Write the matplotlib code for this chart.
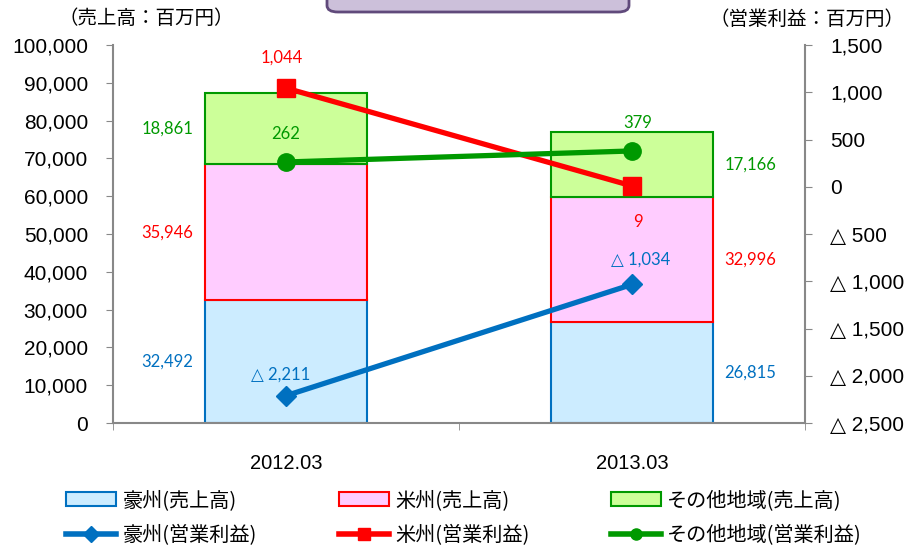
import matplotlib
matplotlib.use('Agg')
import matplotlib.pyplot as plt
from matplotlib.patches import FancyBboxPatch, Patch
from matplotlib.lines import Line2D
from matplotlib.ticker import FuncFormatter
import numpy as np

JP = ['Noto Sans CJK JP', 'DejaVu Sans']
NUM = ['Liberation Sans', 'DejaVu Sans']
LBL = ['Lato', 'DejaVu Sans']

periods = ['2012.03', '2013.03']
regions = ['豪州', '米州', 'その他地域']

sales_aus = [32492, 26815]
sales_us = [35946, 32996]
sales_other = [18861, 17166]

profit_aus = [-2211, -1034]
profit_us = [1044, 9]
profit_other = [262, 379]

fill_colors = ['#CCECFF', '#FFCCFF', '#CCFF99']
edge_colors = ['#0070C0', '#FF0000', '#009900']


def fmt_sales(v, pos=None):
    return f'{int(v):,}'


def fmt_profit(v, pos=None):
    v = int(round(v))
    if v < 0:
        return f'△ {abs(v):,}'
    return f'{v:,}'


fig = plt.figure(figsize=(9.14, 5.49), dpi=100)
ax = fig.add_axes([0.1236, 0.2295, 0.7571, 0.6885])
ax2 = ax.twinx()

x = np.arange(len(periods))
width = 0.47
sales = [sales_aus, sales_us, sales_other]
bottom = np.zeros(len(periods))
bar_handles = []
for name, vals, fc, ec in zip(regions, sales, fill_colors, edge_colors):
    ax.bar(x, vals, width, bottom=bottom, color=fc, edgecolor=ec, linewidth=1.5)
    bar_handles.append(Patch(facecolor=fc, edgecolor=ec, linewidth=1.5,
                             label=f'{name}(売上高)'))
    # first period: label on the left of the bar, second: on the right
    for i, v in enumerate(vals):
        mid = bottom[i] + v / 2
        if i == 0:
            ax.annotate(fmt_sales(v), (x[i] - width / 2, mid), xytext=(-8, 0),
                        textcoords='offset points', ha='right', va='center',
                        color=ec, fontsize=12, family=LBL)
        else:
            ax.annotate(fmt_sales(v), (x[i] + width / 2, mid), xytext=(8, 0),
                        textcoords='offset points', ha='left', va='center',
                        color=ec, fontsize=12, family=LBL)
    bottom += np.array(vals)

ax.set_xlim(-0.5, 1.5)
ax.set_ylim(0, 100000)
ax.set_yticks(np.arange(0, 100001, 10000))
ax.yaxis.set_major_formatter(FuncFormatter(fmt_sales))
ax.set_xticks(x)
ax.set_xticklabels(periods, family=NUM, fontsize=14.5)
ax.tick_params(axis='x', length=0, pad=22)
ax.set_xticks([-0.5, 0.5, 1.5], minor=True)
ax.tick_params(axis='x', which='minor', length=5, color='#888888', direction='out')
ax.tick_params(axis='y', length=5, color='#888888', labelsize=15, pad=13)
for t in ax.get_yticklabels():
    t.set_family(NUM)

profits = [profit_aus, profit_us, profit_other]
markers = ['D', 's', 'o']
msizes = [10, 12.5, 12.5]
line_handles = []
for name, vals, ec, mk, ms in zip(regions, profits, edge_colors, markers, msizes):
    ax2.plot(x, vals, color=ec, linewidth=3.8, marker=mk, markersize=ms,
             solid_capstyle='round')
    line_handles.append(Line2D([], [], color=ec, linewidth=4, marker=mk,
                               markersize=8, label=f'{name}(営業利益)'))

ax2.set_ylim(-2500, 1500)
ax2.set_yticks(np.arange(-2500, 1501, 500))
ax2.yaxis.set_major_formatter(FuncFormatter(fmt_profit))
ax2.tick_params(axis='y', length=5, color='#888888', labelsize=15, pad=13)
for t in ax2.get_yticklabels():
    t.set_family(NUM)

# profit labels (offsets in points from the marker)
profit_offsets = {
    ('米州', 0): (-3, 22), ('米州', 1): (4, -26),
    ('その他地域', 0): (0, 20), ('その他地域', 1): (4, 20),
    ('豪州', 0): (-4, 15), ('豪州', 1): (6, 18),
}
for name, vals, ec in zip(regions, profits, edge_colors):
    for i, v in enumerate(vals):
        ax2.annotate(fmt_profit(v), (x[i], v), xytext=profit_offsets[(name, i)],
                     textcoords='offset points', ha='center', va='center',
                     color=ec, fontsize=12, family=LBL)

for a in (ax, ax2):
    a.spines['top'].set_visible(False)
    for s in ('left', 'right', 'bottom'):
        a.spines[s].set_color('#888888')
        a.spines[s].set_linewidth(1.5)
ax2.spines['left'].set_visible(False)
ax2.spines['bottom'].set_visible(False)
ax.spines['right'].set_visible(False)

fig.text(146 / 914, 1 - 19 / 549, '（売上高：百万円）', ha='center', va='center',
         fontsize=14, family=JP)
fig.text(807 / 914, 1 - 19 / 549, '（営業利益：百万円）', ha='center', va='center',
         fontsize=14, family=JP)

# title box, cut off by the top of the picture
box = FancyBboxPatch((327 / 914, 1 - 12 / 549), 302 / 914, 0.1,
                     boxstyle='round,pad=0,rounding_size=0.012',
                     transform=fig.transFigure, facecolor='#CCC0DA', edgecolor='#604A7B',
                     linewidth=2, clip_on=False)
fig.patches.append(box)

# three legend columns, each with the sales patch and the profit line
col_x = [66, 339, 611]
for cx, bh, lh in zip(col_x, bar_handles, line_handles):
    leg = fig.legend(handles=[bh, lh], loc='upper left',
                     bbox_to_anchor=(cx / 914, 1 - 490 / 549), frameon=False,
                     prop={'family': JP, 'size': 14.5}, handlelength=2.5,
                     handletextpad=0.3, labelspacing=0.7, borderpad=0,
                     borderaxespad=0)

fig.savefig('out.png', dpi=100)
